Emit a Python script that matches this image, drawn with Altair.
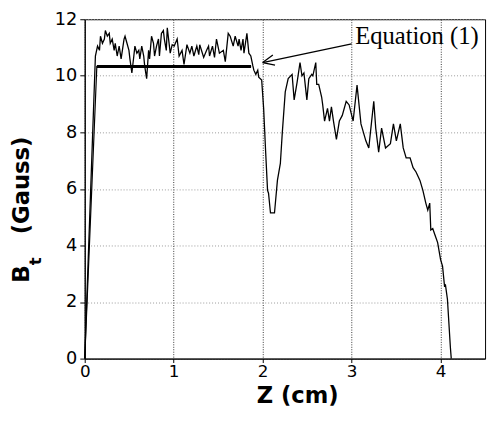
import altair as alt
import pandas as pd

# Measured field B_t (Gauss) vs Z (cm)
z_vals = [0.0, 0.12, 0.144, 0.166, 0.177, 0.199, 0.221, 0.232, 0.254, 0.276, 0.287, 0.309, 0.331,
          0.343, 0.365, 0.387, 0.409, 0.442, 0.453, 0.475, 0.497, 0.508, 0.530, 0.552, 0.564,
          0.586, 0.608, 0.619, 0.641, 0.663, 0.674, 0.696, 0.718, 0.729, 0.751, 0.773, 0.785,
          0.807, 0.829, 0.840, 0.862, 0.884, 0.895, 0.917, 0.928, 0.961, 0.983, 1.006, 1.039,
          1.061, 1.094, 1.116, 1.149, 1.182, 1.204, 1.227, 1.260, 1.282, 1.293, 1.337, 1.370,
          1.392, 1.403, 1.436, 1.459, 1.481, 1.514, 1.558, 1.580, 1.613, 1.635, 1.669, 1.691,
          1.724, 1.735, 1.757, 1.779, 1.790, 1.823, 1.845, 1.867, 1.890, 1.901, 1.923, 1.945,
          1.956, 1.989, 2.011, 2.033, 2.055, 2.066, 2.088, 2.133, 2.166, 2.199, 2.221, 2.254,
          2.287, 2.331, 2.354, 2.387, 2.398, 2.420, 2.442, 2.464, 2.497, 2.519, 2.552, 2.564,
          2.597, 2.608, 2.630, 2.663, 2.674, 2.696, 2.729, 2.751, 2.773, 2.796, 2.829, 2.862,
          2.895, 2.939, 2.972, 3.017, 3.061, 3.105, 3.160, 3.193, 3.249, 3.271, 3.304, 3.337,
          3.381, 3.436, 3.470, 3.503, 3.547, 3.580, 3.613, 3.657, 3.691, 3.724, 3.768, 3.801,
          3.834, 3.856, 3.878, 3.890, 3.912, 3.934, 3.967, 4.000, 4.022, 4.044, 4.055, 4.077,
          4.110, 4.120]
b_vals = [0.0, 10.7, 11.05, 10.9, 11.4, 11.15, 11.3, 11.6, 11.4, 11.5, 11.15, 11.3, 10.9,
          11.15, 10.7, 11.05, 10.6, 11.3, 11.4, 11.15, 10.9, 10.6, 10.1, 10.7, 11.05,
          10.8, 10.9, 10.6, 11.05, 10.7, 10.35, 9.9, 10.9, 10.6, 11.4, 11.15, 10.7,
          11.05, 11.3, 10.7, 11.5, 11.6, 11.3, 10.9, 11.7, 10.8, 11.1, 11.05, 11.3,
          10.7, 10.9, 10.4, 11.1, 10.8, 11.05, 10.7, 11.05, 10.75, 11.1, 10.65, 10.9,
          11.05, 10.7, 11.05, 10.65, 11.3, 10.8, 10.9, 10.5, 11.5, 11.4, 11.05, 11.4,
          11.05, 11.3, 10.9, 11.3, 10.8, 11.5, 10.8, 10.7, 10.35, 10.2, 10.05, 10.2,
          9.95, 9.85, 8.85, 7.35, 5.95, 5.85, 5.15, 5.15, 6.3, 6.9, 8.0, 9.43,
          9.9, 10.05, 9.15, 9.77, 10.0, 10.47, 10.0, 10.1, 9.15, 9.9, 10.05, 10.0,
          10.47, 9.7, 9.7, 9.25, 9.0, 8.4, 8.85, 8.4, 8.9, 8.4, 7.75, 8.4,
          8.6, 9.1, 8.97, 8.4, 9.67, 8.3, 7.7, 7.45, 9.1, 8.15, 7.3, 8.15,
          7.45, 7.6, 8.3, 7.7, 8.3, 7.45, 7.1, 7.1, 6.75, 6.6, 6.3, 5.95,
          5.5, 5.25, 5.5, 4.55, 4.6, 4.4, 4.1, 3.5, 3.27, 2.57, 2.6, 2.1,
          0.4, 0.0]

# Equation (1) curve
eq_z = [0.0, 0.136, 1.87]
eq_b = [0.0, 10.33, 10.33]

# Annotation
ann_text = ["Equation (1)"]
ann_text_z = [3.04]
ann_text_b = [11.4]
arrow_z = [3.0]
arrow_b = [11.13]
arrow_z2 = [2.0]
arrow_b2 = [10.47]

x_ticks = [0, 1, 2, 3, 4]
y_ticks = [0, 2, 4, 6, 8, 10, 12]

df = pd.DataFrame({"z": z_vals, "b": b_vals, "i": list(range(len(z_vals)))})
eq = pd.DataFrame({"z": eq_z, "b": eq_b, "i": list(range(len(eq_z)))})
flat = pd.DataFrame({"z": [eq_z[1]], "z2": [eq_z[2]], "b": [eq_b[1]]})
ann = pd.DataFrame({"t": ann_text, "z": ann_text_z, "b": ann_text_b})
arr = pd.DataFrame({"z": arrow_z, "b": arrow_b, "z2": arrow_z2, "b2": arrow_b2})

xs = alt.Scale(domain=[0, 4.5], nice=False, zero=False)
ys = alt.Scale(domain=[0, 12], nice=False, zero=False)

xax = alt.Axis(values=x_ticks, title="Z (cm)", format="d", grid=True,
               gridColor="#333", gridDash=[1, 1.5], gridWidth=1,
               titleX=216, titleY=38, titleBaseline="middle", titleAlign="center",
               tickSize=4, labelPadding=1, labelFontSize=17, labelFlush=False)
yax = alt.Axis(values=y_ticks, title=None, format="d", grid=True,
               gridColor="#999", gridDash=[1, 2], gridWidth=1,
               tickSize=5, labelPadding=3, labelFontSize=18, labelFlush=False)

base = alt.Chart(df)
data_line = base.mark_line(color="black", strokeWidth=1.3).encode(
    x=alt.X("z:Q", scale=xs, axis=xax),
    y=alt.Y("b:Q", scale=ys, axis=yax),
    order="i:Q",
)
eq_line = alt.Chart(eq).mark_line(color="black", strokeWidth=1.2).encode(
    x=alt.X("z:Q", scale=xs), y=alt.Y("b:Q", scale=ys), order="i:Q")
flat_line = alt.Chart(flat).mark_rule(color="black", strokeWidth=3).encode(
    x=alt.X("z:Q", scale=xs), x2="z2:Q", y=alt.Y("b:Q", scale=ys))
arrow_line = alt.Chart(arr).mark_rule(color="black", strokeWidth=1.3).encode(
    x=alt.X("z:Q", scale=xs), x2="z2:Q", y=alt.Y("b:Q", scale=ys), y2="b2:Q")
arrow_head = alt.Chart(arr).mark_point(
    shape="M0,0 L-1,-0.45 M0,0 L-1,0.45", filled=False, color="black",
    strokeWidth=1.3, size=550, angle=168, opacity=1).encode(
    x=alt.X("z2:Q", scale=xs), y=alt.Y("b2:Q", scale=ys))
ann_label = alt.Chart(ann).mark_text(
    font="Liberation Serif", fontSize=25, align="left", baseline="middle", color="black").encode(
    x=alt.X("z:Q", scale=xs), y=alt.Y("b:Q", scale=ys), text="t:N")

one = pd.DataFrame({"k": [0]})
title_b = alt.Chart(one).mark_text(text="B", font="DejaVu Sans", fontWeight="bold", fontSize=24,
                                   angle=270, align="center", baseline="middle", color="black").encode(
    x=alt.value(-64), y=alt.value(259))
title_t = alt.Chart(one).mark_text(text="t", font="DejaVu Sans", fontWeight="bold", fontSize=17,
                                   angle=270, align="center", baseline="middle", color="black").encode(
    x=alt.value(-49), y=alt.value(246))
title_g = alt.Chart(one).mark_text(text="(Gauss)", font="DejaVu Sans", fontWeight="bold", fontSize=23,
                                   angle=270, align="center", baseline="middle", color="black").encode(
    x=alt.value(-64), y=alt.value(169))

chart = alt.layer(data_line, eq_line, flat_line, arrow_line, arrow_head, ann_label,
                  title_b, title_t, title_g).properties(
    width=407, height=345,
    autosize=alt.AutoSizeParams(type="none"),
    padding={"left": 78, "top": 8, "right": 4, "bottom": 60},
    background="white",
).configure_view(stroke="black", strokeWidth=1).configure_axis(
    labelFont="DejaVu Sans", labelColor="black",
    titleFont="DejaVu Sans", titleFontSize=23, titleFontWeight="bold", titleColor="black",
    domainColor="black", domainWidth=1, tickColor="black", tickWidth=1,
)

chart.save("out.html", embed_options={"renderer": "svg", "actions": False})
